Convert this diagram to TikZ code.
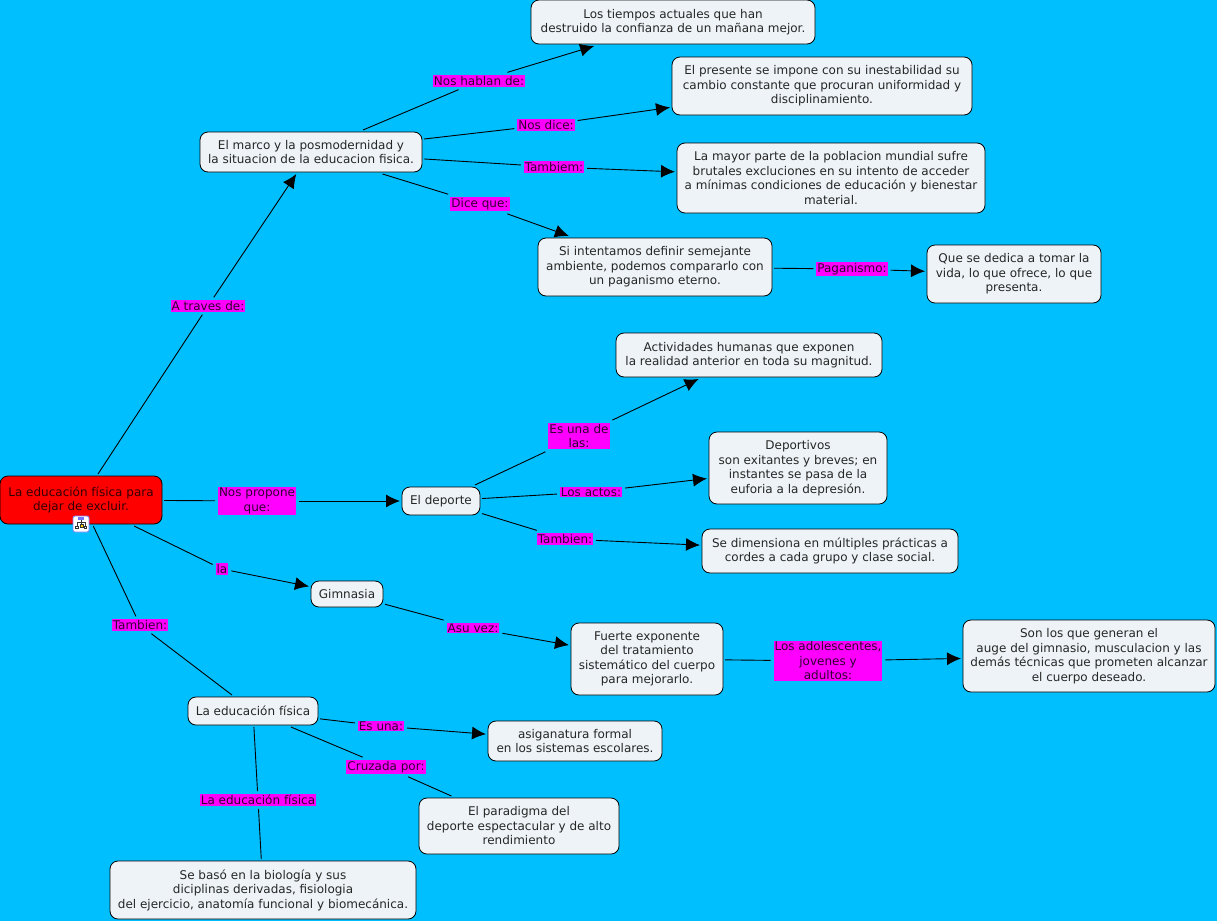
\documentclass[tikz,border=0pt]{standalone}
\usepackage{fontspec}
\setmainfont{DejaVu Sans}
\usepackage{xcolor}
\usetikzlibrary{arrows.meta}
\definecolor{skyback}{HTML}{00BFFF}
\definecolor{conceptfill}{HTML}{EDF3F6}
\definecolor{linkfill}{HTML}{FF00FF}
\definecolor{rootred}{HTML}{FF0000}
\tikzset{
  concept/.style={draw=black, fill=conceptfill, rounded corners=8pt, align=center, text=black!85,
    font=\fontsize{12pt}{14.5pt}\selectfont, inner sep=0pt, outer sep=2pt, line width=0.8pt},
  linklabel/.style={fill=linkfill, align=center, text=black!80!linkfill,
    font=\fontsize{12pt}{14.5pt}\selectfont, inner xsep=1pt, inner ysep=1pt, outer sep=3pt},
  link/.style={draw=black, line width=0.9pt},
  linkarrow/.style={link, -{Latex[length=14pt,width=13pt]}}
}
\begin{document}
\begin{tikzpicture}[x=1pt,y=-1pt]
  \useasboundingbox[fill=skyback] (0,0) rectangle (1217,921);

  % concepts
  \node[concept, minimum width=162pt, minimum height=48pt, fill=rootred, text=black!80!rootred] (root) at (81,500) {La educación física para\\dejar de excluir.};
  \node[concept, minimum width=222pt, minimum height=40pt] (marco) at (311,152) {El marco y la posmodernidad y\\la situacion de la educacion fisica.};
  \node[concept, minimum width=284pt, minimum height=44pt] (tiempos) at (673,22) {Los tiempos actuales que han\\destruido la confianza de un mañana mejor.};
  \node[concept, minimum width=300pt, minimum height=58pt] (presente) at (822,86) {El presente se impone con su inestabilidad su\\cambio constante que procuran uniformidad y\\disciplinamiento.};
  \node[concept, minimum width=308pt, minimum height=70pt] (mayor) at (831,178) {La mayor parte de la poblacion mundial sufre\\brutales excluciones en su intento de acceder\\a mínimas condiciones de educación y bienestar\\material.};
  \node[concept, minimum width=234pt, minimum height=58pt] (ambiente) at (655,267) {Si intentamos definir semejante\\ambiente, podemos compararlo con\\un paganismo eterno.};
  \node[concept, minimum width=174pt, minimum height=58pt] (vida) at (1014,274) {Que se dedica a tomar la\\vida, lo que ofrece, lo que\\presenta.};
  \node[concept, minimum width=266pt, minimum height=44pt] (humanas) at (749,355) {Actividades humanas que exponen\\la realidad anterior en toda su magnitud.};
  \node[concept, minimum width=178pt, minimum height=72pt] (deportivos) at (798,468) {Deportivos\\son exitantes y breves; en\\instantes se pasa de la\\euforia a la depresión.};
  \node[concept, minimum width=256pt, minimum height=44pt] (practicas) at (830,551) {Se dimensiona en múltiples prácticas a\\cordes a cada grupo y clase social.};
  \node[concept, minimum width=78pt, minimum height=28pt] (deporte) at (441,501) {El deporte};
  \node[concept, minimum width=72pt, minimum height=26pt] (gimnasia) at (347,594) {Gimnasia};
  \node[concept, minimum width=152pt, minimum height=72pt] (fuerte) at (647,659) {Fuerte exponente\\del tratamiento\\sistemático del cuerpo\\para mejorarlo.};
  \node[concept, minimum width=252pt, minimum height=72pt] (generan) at (1089,656) {Son los que generan el\\auge del gimnasio, musculacion y las\\demás técnicas que prometen alcanzar\\el cuerpo deseado.};
  \node[concept, minimum width=130pt, minimum height=28pt] (fisica) at (253,711) {La educación física};
  \node[concept, minimum width=174pt, minimum height=40pt] (asignatura) at (575,741) {asiganatura formal\\en los sistemas escolares.};
  \node[concept, minimum width=200pt, minimum height=56pt] (paradigma) at (519,826) {El paradigma del\\deporte espectacular y de alto\\rendimiento};
  \node[concept, minimum width=306pt, minimum height=58pt] (biologia) at (263,890) {Se basó en la biología y sus\\diciplinas derivadas, fisiologia\\del ejercicio, anatomía funcional y biomecánica.};

  % linking phrases
  \node[linklabel] (atraves) at (208,306) {A traves de:};
  \node[linklabel] (hablan) at (479,81) {Nos hablan de:};
  \node[linklabel] (dice) at (546,125) {Nos dice:};
  \node[linklabel] (tambiem) at (554,167) {Tambiem:};
  \node[linklabel] (dicequ) at (480,204) {Dice que:};
  \node[linklabel] (paganismo) at (852,269) {Paganismo:};
  \node[linklabel] (esunade) at (579,436) {Es una de\\las:};
  \node[linklabel] (actos) at (591,492) {Los actos:};
  \node[linklabel] (tambiena) at (565,539) {Tambien:};
  \node[linklabel] (propone) at (257,501) {Nos propone\\que:};
  \node[linklabel] (la) at (222,569) {la};
  \node[linklabel] (tambienb) at (140,625) {Tambien:};
  \node[linklabel] (asuvez) at (473,628) {Asu vez:};
  \node[linklabel] (adolescentes) at (828,661) {Los adolescentes,\\jovenes y\\adultos:};
  \node[linklabel] (esuna) at (381,726) {Es una:};
  \node[linklabel] (cruzada) at (386,767) {Cruzada por:};
  \node[linklabel] (lafisica) at (258,800) {La educación física};

  % links
  \draw[link] (root) -- (atraves);
  \draw[linkarrow] (atraves) -- (marco);
  \draw[link] (marco) -- (hablan);
  \draw[linkarrow] (hablan) -- (tiempos);
  \draw[link] (marco) -- (dice);
  \draw[linkarrow] (dice) -- (presente);
  \draw[link] (marco) -- (tambiem);
  \draw[linkarrow] (tambiem) -- (mayor);
  \draw[link] (marco) -- (dicequ);
  \draw[linkarrow] (dicequ) -- (ambiente);
  \draw[link] (ambiente) -- (paganismo);
  \draw[linkarrow] (paganismo) -- (vida);
  \draw[link] (root) -- (propone);
  \draw[linkarrow] (propone) -- (deporte);
  \draw[link] (deporte) -- (esunade);
  \draw[linkarrow] (esunade) -- (humanas);
  \draw[link] (deporte) -- (actos);
  \draw[linkarrow] (actos) -- (deportivos);
  \draw[link] (deporte) -- (tambiena);
  \draw[linkarrow] (tambiena) -- (practicas);
  \draw[link] (root) -- (la);
  \draw[linkarrow] (la) -- (gimnasia);
  \draw[link] (gimnasia) -- (asuvez);
  \draw[linkarrow] (asuvez) -- (fuerte);
  \draw[link] (fuerte) -- (adolescentes);
  \draw[linkarrow] (adolescentes) -- (generan);
  \draw[link] (root) -- (tambienb);
  \draw[link] (tambienb) -- (fisica);
  \draw[link] (fisica) -- (esuna);
  \draw[linkarrow] (esuna) -- (asignatura);
  \draw[link] (fisica) -- (cruzada);
  \draw[link] (cruzada) -- (paradigma);
  \draw[link] (fisica) -- (lafisica);
  \draw[link] (lafisica) -- (biologia);

  % map icon under the root
  \node[draw=blue!50, fill=white, rounded corners=2pt, minimum size=16pt, inner sep=0pt, line width=0.8pt] (icon) at (81,524) {};
  \draw[black!80, line width=0.6pt] (81,520) -- (81,522) (77,526) -- (77,522) -- (85,522) -- (85,526) (81,522) -- (81,526);
  \fill[blue!55] (78,516.5) rectangle (84,520);
  \draw[black!80, line width=0.5pt, fill=yellow!70!orange] (80,524) rectangle +(3,3);
  \draw[black!80, line width=0.5pt, fill=white] (75.5,526) rectangle +(2.5,2.5) (84,526) rectangle +(2.5,2.5);
\end{tikzpicture}
\end{document}
